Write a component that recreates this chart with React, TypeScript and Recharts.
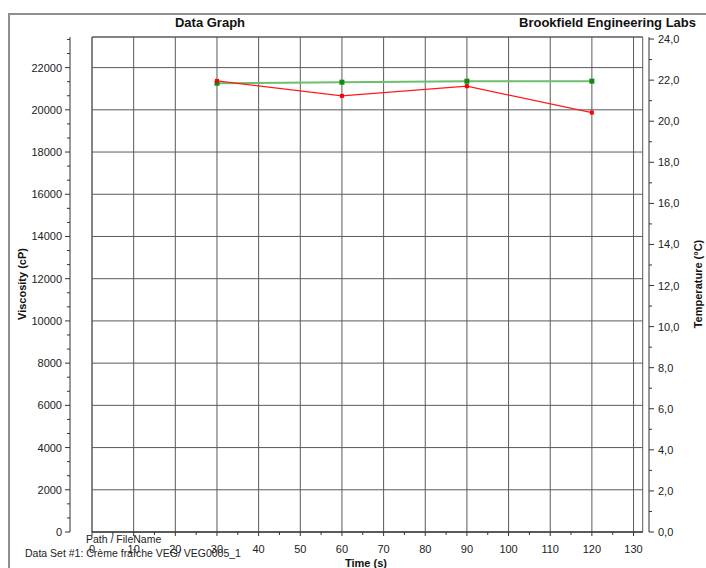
import {
  CartesianGrid,
  Line,
  LineChart,
  ReferenceArea,
  ReferenceLine,
  XAxis,
  YAxis,
} from 'recharts';

const times = [30, 60, 90, 120];
const viscosity = [21370, 20660, 21120, 19870];
const temperature = [21.85, 21.9, 21.95, 21.95];

const timeTicks = [0, 10, 20, 30, 40, 50, 60, 70, 80, 90, 100, 110, 120, 130];
const viscTicks = [0, 2000, 4000, 6000, 8000, 10000, 12000, 14000, 16000, 18000, 20000, 22000];
const tempTicks = [0, 2, 4, 6, 8, 10, 12, 14, 16, 18, 20, 22, 24];

const X_MAX = 132.2;
const VISC_MAX = 23450;
const TEMP_MAX = 24.1;

// minor ticks: halves on x and temperature, thirds on viscosity
const timeAll = timeTicks.flatMap((t) => [t, t + 5]).filter((t) => t < X_MAX);
const viscAll = viscTicks.flatMap((v) => [v, v + 2000 / 3, v + 4000 / 3]).filter((v) => v < VISC_MAX);
const tempAll = tempTicks.flatMap((v) => [v, v + 1]).filter((v) => v < TEMP_MAX);

const data = times.map((t, i) => ({ time: t, viscosity: viscosity[i], temperature: temperature[i] }));

const FONT = '"Liberation Sans", Arial, sans-serif';
const AXIS = '#333';
const GRID = '#5a5a5a';

function TimeTick(props: any) {
  const { x, y, payload } = props;
  const major = timeTicks.includes(payload.value);
  return (
    <g>
      <line x1={x} x2={x} y1={y} y2={y + (major ? 4 : 3)} stroke={AXIS} />
      {major && (
        <text x={x} y={y + 21} textAnchor="middle" fontSize={11} fontFamily={FONT} fill="#222">
          {payload.value}
        </text>
      )}
    </g>
  );
}

function ViscTick(props: any) {
  const { x, y, payload } = props;
  const major = viscTicks.includes(payload.value);
  return (
    <g>
      <line x1={x - (major ? 5 : 3)} x2={x} y1={y} y2={y} stroke={AXIS} />
      {major && (
        <text x={x - 8} y={y + 4} textAnchor="end" fontSize={11} fontFamily={FONT} fill="#222">
          {payload.value}
        </text>
      )}
    </g>
  );
}

function TempTick(props: any) {
  const { x, y, payload } = props;
  const major = tempTicks.includes(payload.value);
  return (
    <g>
      <line x1={x} x2={x + (major ? 5 : 3)} y1={y} y2={y} stroke={AXIS} />
      {major && (
        <text x={x + 9} y={y + 4} textAnchor="start" fontSize={11} fontFamily={FONT} fill="#222">
          {payload.value.toFixed(1).replace('.', ',')}
        </text>
      )}
    </g>
  );
}

const squareDot = (color: string, size: number) => (props: any) => (
  <rect
    key={`d-${props.index}`}
    x={props.cx - size / 2}
    y={props.cy - size / 2}
    width={size}
    height={size}
    fill={color}
  />
);

export default function App() {
  return (
    <div style={{ position: 'relative', width: 706, height: 568, fontFamily: FONT, overflow: 'hidden' }}>
      <style>{'body{margin:0;overflow:hidden}'}</style>
      <LineChart
        width={706}
        height={568}
        data={data}
        margin={{ top: 37, right: 0, bottom: 0, left: 0 }}
      >
        <XAxis
          xAxisId="t"
          dataKey="time"
          type="number"
          domain={[0, X_MAX]}
          allowDataOverflow
          ticks={timeAll}
          interval={0}
          height={36}
          tickSize={0}
          tickMargin={0}
          tickLine={false}
          axisLine={{ stroke: AXIS }}
          tick={<TimeTick />}
        />
        <YAxis yAxisId="padL" orientation="left" width={22} axisLine={false} tickLine={false} tick={false} domain={[0, 1]} />
        <YAxis
          yAxisId="visc"
          orientation="left"
          type="number"
          width={70}
          domain={[0, VISC_MAX]}
          allowDataOverflow
          ticks={viscAll}
          interval={0}
          tickSize={0}
          tickMargin={0}
          tickLine={false}
          axisLine={{ stroke: AXIS }}
          tick={<ViscTick />}
        />
        <YAxis yAxisId="yg" type="number" domain={[0, VISC_MAX]} allowDataOverflow ticks={viscTicks} hide />
        <YAxis yAxisId="padR" orientation="right" width={6.3} axisLine={false} tickLine={false} tick={false} domain={[0, 1]} />
        <YAxis
          yAxisId="temp"
          orientation="right"
          type="number"
          width={57}
          domain={[0, TEMP_MAX]}
          allowDataOverflow
          ticks={tempAll}
          interval={0}
          tickSize={0}
          tickMargin={0}
          tickLine={false}
          axisLine={{ stroke: AXIS }}
          tick={<TempTick />}
        />
        <CartesianGrid xAxisId="t" yAxisId="yg" stroke={GRID} vertical={false} />
        {timeTicks.map((t) => (
          <ReferenceLine key={`v-${t}`} xAxisId="t" yAxisId="visc" x={t} stroke={GRID} />
        ))}
        <ReferenceArea
          xAxisId="t"
          yAxisId="visc"
          x1={0}
          x2={X_MAX}
          y1={0}
          y2={VISC_MAX}
          fillOpacity={0}
          stroke={GRID}
          ifOverflow="visible"
        />
        <Line
          xAxisId="t"
          yAxisId="temp"
          dataKey="temperature"
          stroke="#6cbf6c"
          strokeWidth={2}
          dot={squareDot('#108a10', 5)}
          activeDot={false}
          isAnimationActive={false}
        />
        <Line
          xAxisId="t"
          yAxisId="visc"
          dataKey="viscosity"
          stroke="#ff1a1a"
          strokeWidth={1.2}
          dot={squareDot('#ff0000', 4)}
          activeDot={false}
          isAnimationActive={false}
        />
      </LineChart>
      <svg
        width={706}
        height={568}
        style={{ position: 'absolute', left: 0, top: 0, pointerEvents: 'none' }}
        fontFamily={FONT}
      >
        <path d="M 9 568 V 14 H 706" fill="none" stroke="#8f8f8f" strokeWidth={2} />
        <text x={210} y={27} textAnchor="middle" fontSize={13} fontWeight="bold" fill="#111">Data Graph</text>
        <text x={696} y={27} textAnchor="end" fontSize={13} fontWeight="bold" fill="#111">Brookfield Engineering Labs</text>
        <text x={26} y={284} transform="rotate(-90 26 284)" textAnchor="middle" fontSize={11} fontWeight="bold" fill="#111">Viscosity (cP)</text>
        <text x={702} y={284} transform="rotate(-90 702 284)" textAnchor="middle" fontSize={11} fontWeight="bold" fill="#111">Temperature (°C)</text>
        <text x={366} y={567} textAnchor="middle" fontSize={11} fontWeight="bold" fill="#111">Time (s)</text>
        <text x={86} y={543} fontSize={10.5} fill="#222">Path / FileName</text>
        <text x={25} y={557} fontSize={10.5} fill="#222">Data Set #1: Crème fraîche VEG/ VEG0005_1</text>
      </svg>
    </div>
  );
}
